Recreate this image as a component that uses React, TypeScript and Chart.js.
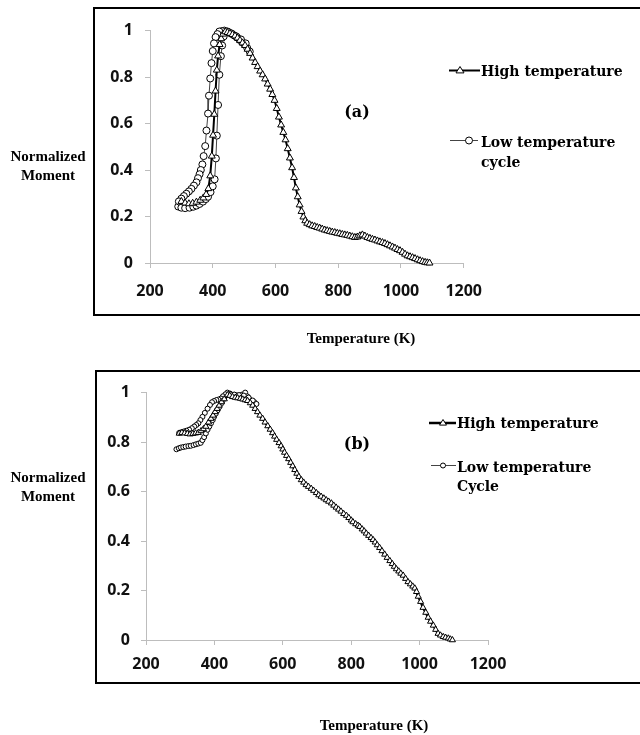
import React, { useEffect, useRef } from "react";
import { Chart, registerables } from "chart.js";

Chart.register(...registerables);

// ---------- Panel (a) ----------
const aHighT = [300, 312, 324, 336, 348, 360, 370, 379, 386, 392, 397, 401, 405, 409, 413, 417, 422, 427, 433, 440, 447, 455, 463, 471, 479, 487, 495, 503, 511, 519, 527, 535, 543, 551, 559, 567, 575, 583, 590, 597, 604, 611, 618, 625, 632, 639, 646, 653, 659, 665, 671, 677, 683, 689, 695, 701, 709, 717, 725, 733, 741, 749, 757, 765, 773, 781, 789, 797, 805, 813, 821, 829, 837, 845, 853, 861, 869, 877, 885, 893, 901, 909, 917, 925, 933, 941, 949, 957, 965, 973, 981, 989, 997, 1005, 1013, 1021, 1029, 1037, 1045, 1053, 1061, 1069, 1077, 1084, 1091];
const aHighM = [0.265, 0.258, 0.255, 0.257, 0.262, 0.27, 0.28, 0.295, 0.32, 0.375, 0.46, 0.55, 0.64, 0.74, 0.83, 0.891, 0.94, 0.965, 0.985, 0.995, 0.992, 0.988, 0.983, 0.977, 0.968, 0.958, 0.947, 0.936, 0.92, 0.902, 0.882, 0.863, 0.845, 0.826, 0.81, 0.792, 0.77, 0.748, 0.725, 0.7, 0.665, 0.628, 0.594, 0.562, 0.53, 0.492, 0.452, 0.41, 0.368, 0.323, 0.285, 0.25, 0.222, 0.198, 0.182, 0.171, 0.165, 0.16, 0.157, 0.153, 0.15, 0.146, 0.142, 0.139, 0.136, 0.133, 0.131, 0.128, 0.126, 0.123, 0.121, 0.119, 0.116, 0.113, 0.11, 0.112, 0.117, 0.121, 0.116, 0.11, 0.106, 0.102, 0.099, 0.095, 0.091, 0.088, 0.084, 0.079, 0.074, 0.069, 0.064, 0.058, 0.053, 0.046, 0.038, 0.031, 0.027, 0.023, 0.019, 0.014, 0.01, 0.006, 0.003, 0.001, 0.0];

const aLowT = [290, 300, 312, 326, 338, 348, 358, 369, 378, 385, 393, 400, 406, 410, 413, 417, 421, 426, 430, 435, 441, 448, 455, 462, 470, 478, 486, 494, 502, 510, 518, 505, 490, 475, 460, 447, 437, 429, 421, 415, 409, 404, 400, 396, 392, 388, 385, 380, 376, 371, 367, 362, 358, 353, 348, 340, 332, 324, 316, 308, 300, 292];
const aLowM = [0.243, 0.238, 0.236, 0.238, 0.242, 0.247, 0.254, 0.264, 0.275, 0.285, 0.305, 0.33, 0.36, 0.45, 0.548, 0.68, 0.81, 0.89, 0.936, 0.975, 0.995, 0.995, 0.99, 0.985, 0.978, 0.97, 0.96, 0.95, 0.94, 0.925, 0.91, 0.945, 0.962, 0.975, 0.987, 0.996, 1.0, 0.998, 0.996, 0.985, 0.972, 0.945, 0.912, 0.86, 0.794, 0.72, 0.643, 0.57, 0.503, 0.46, 0.424, 0.4, 0.382, 0.365, 0.347, 0.333, 0.319, 0.308, 0.298, 0.288, 0.277, 0.265];

// ---------- Panel (b) ----------
const bHighT = [297, 305, 313, 321, 329, 337, 345, 353, 361, 368, 375, 383, 390, 396, 402, 408, 414, 421, 429, 438, 445, 453, 461, 468, 476, 483, 490, 497, 505, 512, 519, 526, 533, 541, 548, 556, 563, 570, 576, 582, 589, 595, 600, 605, 611, 617, 623, 629, 635, 641, 647, 654, 661, 668, 675, 683, 690, 698, 705, 712, 720, 727, 734, 742, 749, 756, 763, 770, 778, 786, 793, 800, 805, 813, 820, 825, 832, 838, 844, 851, 858, 864, 870, 876, 883, 890, 898, 905, 913, 920, 926, 932, 939, 945, 952, 959, 966, 973, 980, 986, 991, 996, 1003, 1010, 1018, 1025, 1032, 1040, 1047, 1054, 1061, 1069, 1076, 1084, 1090, 1096];
const bHighM = [0.835, 0.838, 0.836, 0.834, 0.832, 0.834, 0.836, 0.838, 0.845, 0.853, 0.863, 0.88, 0.895, 0.908, 0.922, 0.935, 0.948, 0.962, 0.974, 0.99, 0.988, 0.983, 0.98, 0.978, 0.976, 0.973, 0.97, 0.967, 0.958, 0.948, 0.935, 0.922, 0.908, 0.895, 0.88, 0.865, 0.851, 0.837, 0.823, 0.81, 0.797, 0.784, 0.771, 0.758, 0.745, 0.732, 0.717, 0.703, 0.688, 0.673, 0.66, 0.647, 0.637, 0.627, 0.62, 0.612, 0.604, 0.595, 0.586, 0.58, 0.573, 0.566, 0.56, 0.553, 0.544, 0.536, 0.528, 0.52, 0.51, 0.503, 0.494, 0.484, 0.477, 0.469, 0.463, 0.458, 0.448, 0.44, 0.431, 0.422, 0.413, 0.405, 0.395, 0.384, 0.373, 0.36, 0.346, 0.333, 0.32, 0.308, 0.297, 0.287, 0.278, 0.269, 0.261, 0.248, 0.235, 0.226, 0.217, 0.209, 0.195, 0.176, 0.155, 0.131, 0.111, 0.091, 0.075, 0.059, 0.042, 0.026, 0.019, 0.013, 0.01, 0.007, 0.003, 0.0];

const bLowT = [289, 296, 302, 309, 316, 324, 331, 339, 346, 353, 360, 365, 370, 375, 380, 385, 390, 395, 399, 404, 409, 414, 419, 424, 429, 434, 438, 446, 458, 465, 473, 481, 490, 496, 502, 510, 517, 523, 512, 500, 486, 472, 458, 445, 432, 425, 419, 412, 406, 399, 393, 387, 380, 372, 365, 359, 353, 347, 341, 334, 326, 318, 311, 304, 297];
const bLowM = [0.771, 0.775, 0.778, 0.78, 0.782, 0.784, 0.785, 0.788, 0.791, 0.794, 0.797, 0.808, 0.82, 0.835, 0.85, 0.863, 0.876, 0.889, 0.902, 0.915, 0.928, 0.941, 0.954, 0.967, 0.98, 0.99, 1.0, 0.996, 0.991, 0.989, 0.987, 0.992, 1.0, 0.985, 0.974, 0.966, 0.961, 0.954, 0.968, 0.98, 0.988, 0.99, 0.992, 0.995, 0.993, 0.985, 0.976, 0.972, 0.97, 0.966, 0.961, 0.95, 0.935, 0.918, 0.902, 0.889, 0.876, 0.869, 0.863, 0.856, 0.85, 0.846, 0.843, 0.84, 0.837];

const xTickValues = [200, 400, 600, 800, 1000, 1200];
const xTickLabels = ["200", "400", "600", "800", "1000", "1200"];
const yTickValues = [0, 0.2, 0.4, 0.6, 0.8, 1];
const yTickLabels = ["0", "0.2", "0.4", "0.6", "0.8", "1"];

const seriesNames = ["High temperature", "Low temperature cycle"];

const toPoints = (xs: number[], ys: number[]) => xs.map((x, i) => ({ x, y: ys[i] }));

type PanelProps = {
  left: number;
  top: number;
  width: number;
  height: number;
  yAxisWidth: number;
  xAxisHeight: number;
  padTop: number;
  padRight: number;
  xTickPad: number;
  yTickPad: number;
  highT: number[];
  highM: number[];
  lowT: number[];
  lowM: number[];
  triR: number;
  circR: number;
  highWidth: number;
};

function PanelChart(p: PanelProps) {
  const ref = useRef<HTMLCanvasElement | null>(null);
  useEffect(() => {
    if (!ref.current) return;
    const tickFont = { family: "'Open Sans', 'DejaVu Sans', sans-serif", size: 16, weight: "bold" as const };
    const chart = new Chart(ref.current, {
      type: "scatter",
      data: {
        datasets: [
          {
            label: seriesNames[0],
            data: toPoints(p.highT, p.highM),
            showLine: true,
            clip: false,
            borderColor: "#000",
            borderWidth: p.highWidth,
            pointStyle: "triangle",
            pointRadius: p.triR,
            pointBackgroundColor: "#fff",
            pointBorderColor: "#000",
            pointBorderWidth: 1,
            tension: 0,
          },
          {
            label: seriesNames[1],
            data: toPoints(p.lowT, p.lowM),
            showLine: true,
            clip: false,
            borderColor: "#444",
            borderWidth: 1,
            pointStyle: "circle",
            pointRadius: p.circR,
            pointBackgroundColor: "#fff",
            pointBorderColor: "#000",
            pointBorderWidth: 1,
            tension: 0,
          },
        ],
      },
      options: {
        responsive: false,
        animation: false,
        devicePixelRatio: 1,
        layout: { padding: { top: p.padTop, right: p.padRight, left: 0, bottom: 0 } },
        plugins: { legend: { display: false }, tooltip: { enabled: false } },
        scales: {
          x: {
            type: "linear",
            min: 200,
            max: 1200,
            afterBuildTicks: (s: any) => {
              s.ticks = xTickValues.map((v) => ({ value: v }));
            },
            afterFit: (s: any) => {
              s.height = p.xAxisHeight;
            },
            grid: { drawOnChartArea: false, drawTicks: true, tickLength: 5, color: "#bdbdbd" },
            border: { display: true, color: "#bdbdbd", width: 1 },
            ticks: {
              font: tickFont,
              color: "#111",
              padding: p.xTickPad,
              maxRotation: 0,
              autoSkip: false,
              callback: (v: any, i: number) => xTickLabels[i],
            },
          },
          y: {
            type: "linear",
            min: 0,
            max: 1,
            afterBuildTicks: (s: any) => {
              s.ticks = yTickValues.map((v) => ({ value: v }));
            },
            afterFit: (s: any) => {
              s.width = p.yAxisWidth;
            },
            grid: { drawOnChartArea: false, drawTicks: true, tickLength: 5, color: "#bdbdbd" },
            border: { display: true, color: "#bdbdbd", width: 1 },
            ticks: {
              font: tickFont,
              color: "#111",
              padding: p.yTickPad,
              autoSkip: false,
              callback: (v: any, i: number) => yTickLabels[i],
            },
          },
        },
      },
    });
    return () => chart.destroy();
  }, []);
  return (
    <canvas
      ref={ref}
      width={p.width}
      height={p.height}
      style={{ position: "absolute", left: p.left, top: p.top, width: p.width, height: p.height }}
    />
  );
}

const serif = "'Liberation Serif', 'Times New Roman', serif";
const legendSerif = "'DejaVu Serif', serif";

function Text({ cx, cy, children, size = 15, align = "center", w = 200, family = serif }: any) {
  const style: React.CSSProperties = {
    position: "absolute",
    top: cy - 10,
    lineHeight: "20px",
    fontFamily: family,
    fontWeight: "bold",
    fontSize: size,
    color: "#000",
    whiteSpace: "nowrap",
  };
  if (align === "center") {
    style.left = cx - w / 2;
    style.width = w;
    style.textAlign = "center";
  } else {
    style.left = cx;
  }
  return <div style={style}>{children}</div>;
}

function tri(cx: number, cy: number, r: number) {
  const half = r * 1.0;
  return `${cx},${cy - r} ${cx - half},${cy + r * 0.6} ${cx + half},${cy + r * 0.6}`;
}

export default function App() {
  return (
    <div style={{ position: "fixed", left: 0, top: 0, width: 640, height: 735, overflow: "hidden", background: "#fff" }}>
      {/* Panel (a) frame */}
      <div style={{ position: "absolute", left: 93, top: 7, width: 600, height: 305, border: "2px solid #000" }} />
      {/* Panel (b) frame */}
      <div style={{ position: "absolute", left: 95, top: 370, width: 600, height: 310, border: "2px solid #000" }} />

      <PanelChart
        left={95}
        top={9}
        width={401}
        height={305}
        yAxisWidth={55}
        xAxisHeight={51}
        padTop={15}
        padRight={30}
        xTickPad={14}
        yTickPad={12}
        highT={aHighT}
        highM={aHighM}
        lowT={aLowT}
        lowM={aLowM}
        triR={4}
        circR={3.5}
        highWidth={2}
      />
      <PanelChart
        left={97}
        top={372}
        width={421}
        height={310}
        yAxisWidth={49}
        xAxisHeight={42}
        padTop={13}
        padRight={30}
        xTickPad={10}
        yTickPad={11}
        highT={bHighT}
        highM={bHighM}
        lowT={bLowT}
        lowM={bLowM}
        triR={3.5}
        circR={2.5}
        highWidth={2.5}
      />

      {/* legend samples */}
      <svg width={640} height={735} style={{ position: "absolute", left: 0, top: 0, pointerEvents: "none" }}>
        <line x1={449} y1={70.5} x2={480} y2={70.5} stroke="#000" strokeWidth={2} />
        <polygon points={tri(460, 70.5, 4)} fill="#fff" stroke="#000" strokeWidth={1} />
        <line x1={450} y1={140.5} x2={478} y2={140.5} stroke="#444" strokeWidth={1} />
        <circle cx={469} cy={140.5} r={3.5} fill="#fff" stroke="#000" strokeWidth={1} />

        <line x1={429} y1={423} x2={456} y2={423} stroke="#000" strokeWidth={2.5} />
        <polygon points={tri(443, 423, 3.5)} fill="#fff" stroke="#000" strokeWidth={1} />
        <line x1={431} y1={465.5} x2={456} y2={465.5} stroke="#444" strokeWidth={1} />
        <circle cx={443} cy={465.5} r={2.5} fill="#fff" stroke="#000" strokeWidth={1} />
      </svg>

      {/* legend texts */}
      <Text cx={481} cy={71} size={14} align="left" family={legendSerif}>High temperature</Text>
      <Text cx={481} cy={142} size={14} align="left" family={legendSerif}>Low temperature</Text>
      <Text cx={481} cy={162} size={14} align="left" family={legendSerif}>cycle</Text>

      <Text cx={457} cy={423} size={14} align="left" family={legendSerif}>High temperature</Text>
      <Text cx={457} cy={467} size={14} align="left" family={legendSerif}>Low temperature</Text>
      <Text cx={457} cy={486} size={14} align="left" family={legendSerif}>Cycle</Text>

      {/* panel tags */}
      <Text cx={357} cy={112} size={16} family={legendSerif}>(a)</Text>
      <Text cx={357} cy={444} size={16} family={legendSerif}>(b)</Text>

      {/* axis titles */}
      <Text cx={48} cy={156} size={15}>Normalized</Text>
      <Text cx={48} cy={175} size={15}>Moment</Text>
      <Text cx={361} cy={338} size={15}>Temperature (K)</Text>

      <Text cx={48} cy={477} size={15}>Normalized</Text>
      <Text cx={48} cy={496} size={15}>Moment</Text>
      <Text cx={374} cy={725} size={15}>Temperature (K)</Text>
    </div>
  );
}
